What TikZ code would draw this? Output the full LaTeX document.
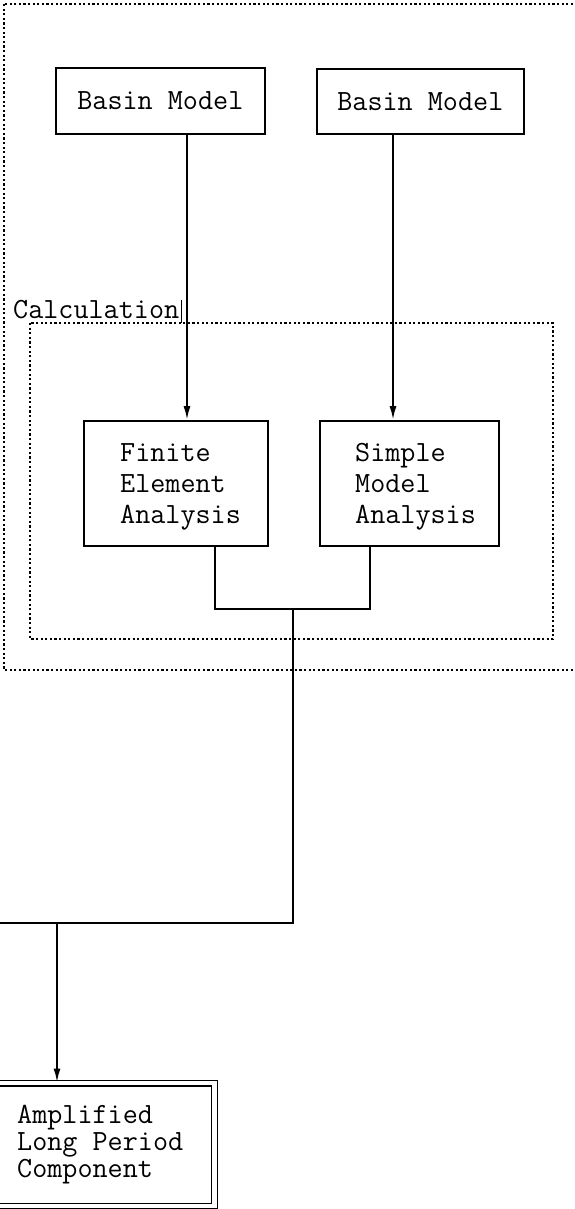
\documentclass[tikz,border=0pt]{standalone}
\usetikzlibrary{arrows.meta}
\begin{document}
\begin{tikzpicture}[x=1pt, y=-1pt,
  frame/.style={draw, line width=1.7pt, inner sep=0pt},
  grp/.style={draw, line width=1.4pt, dash pattern=on 2.2pt off 2.4pt},
  link/.style={line width=2pt},
  flow/.style={link, -{Latex[length=14pt, width=7pt]}},
  tt/.style={font=\fontsize{29.3}{31}\selectfont\ttfamily, inner sep=0pt},
  ttres/.style={font=\fontsize{29.3}{27}\selectfont\ttfamily, inner sep=0pt}]
\useasboundingbox (0,0) rectangle (574,1209);
\clip (0,0) rectangle (574,1209);

% enclosing frames
\draw[grp] (4,4) rectangle (600,670);
\draw[grp] (30,323) rectangle (553,639);
\node[tt, anchor=base west] (calc) at (13,318) {Calculation};
\draw[line width=1.2pt] ([xshift=2pt]calc.north east) -- ([xshift=2pt]calc.east |- 0,323);

% input models
\node[frame, tt, anchor=north west, minimum width=209pt, minimum height=66pt] (bm1) at (55,67) {Basin Model};
\node[frame, tt, anchor=north west, minimum width=207pt, minimum height=65pt] (bm2) at (316,68) {Basin Model};

% analyses
\node[frame, anchor=north west, minimum width=184pt, minimum height=125pt] (fea) at (83,420) {};
\node[tt, align=left, anchor=north west] (feat) at (120,443) {Finite\\Element\\Analysis};
\node[frame, anchor=north west, minimum width=179pt, minimum height=125pt] (sma) at (319,420) {};
\node[tt, align=left, anchor=north west] (smat) at (355,443) {Simple\\Model\\Analysis};

% result
\node[draw, double, double distance=4.5pt, line width=1.4pt, anchor=north west,
      minimum width=224pt, minimum height=123pt, inner sep=0pt] (res) at (-10,1082.5) {};
\node[ttres, align=left, anchor=north west] (rest) at (17,1105) {Amplified\\Long Period\\Component};

% connectors
\coordinate (a1) at (187,0);
\coordinate (a2) at (393,0);
\coordinate (c1) at (215,0);
\coordinate (c2) at (370,0);
\coordinate (j) at (293,609);
\coordinate (lft) at (-10,923);
\coordinate (t) at (57,923);

\draw[flow] (bm1.south -| a1) -- (fea.north -| a1);
\draw[flow] (bm2.south -| a2) -- (sma.north -| a2);
\draw[link] (fea.south -| c1) |- (j) -| (sma.south -| c2);
\draw[link] (j) |- (lft);
\draw[flow] (t) -- (res.north -| t);
\end{tikzpicture}
\end{document}
